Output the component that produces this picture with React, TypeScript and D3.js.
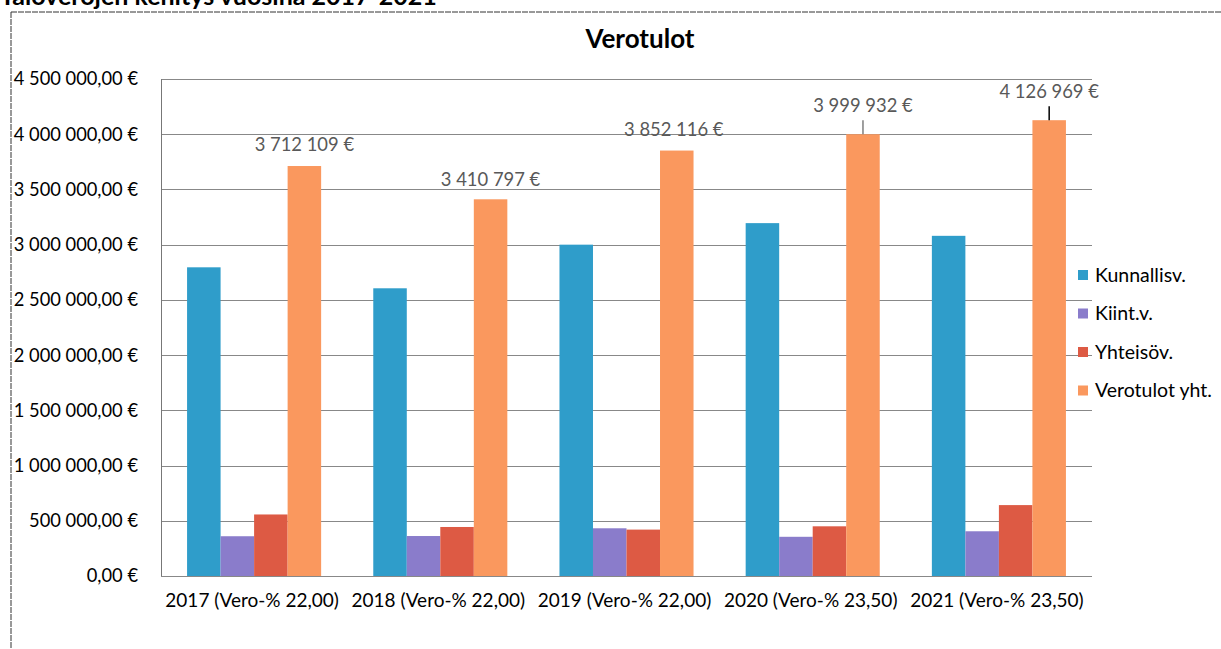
import React from "react";
import * as d3 from "d3";

const categories = [
  "2017 (Vero-% 22,00)",
  "2018 (Vero-% 22,00)",
  "2019 (Vero-% 22,00)",
  "2020 (Vero-% 23,50)",
  "2021 (Vero-% 23,50)",
];
const seriesNames = ["Kunnallisv.", "Kiint.v.", "Yhteisöv.", "Verotulot yht."];
const kunnallisv = [2795000, 2605000, 3000000, 3195000, 3080000];
const kiintv = [360000, 362000, 432000, 355000, 405000];
const yhteisov = [557109, 443797, 420116, 449932, 641969];
const verotulotYht = [3712109, 3410797, 3852116, 3999932, 4126969];
const yTicks = [0, 500000, 1000000, 1500000, 2000000, 2500000, 3000000, 3500000, 4000000, 4500000];

const colors = ["#2f9dca", "#8a7ccb", "#dd5a44", "#fa985e"];
// label layout tweaks (px above bar top, horizontal shift, leader line)
const labelLift = [15, 13, 15, 22, 22];
const labelShift = [0, 0, -3, 0, 0];
const leader = [null, null, null, "#7f7f7f", "#000000"];

const W = 1221;
const H = 649;
const FONT = "Lato, 'Open Sans', sans-serif";

const loc = d3.formatLocale({ decimal: ",", thousands: "\u00a0", grouping: [3], currency: ["", "\u00a0€"] });
const fmtTick = (v: number) => loc.format(",.2f")(v) + "\u00a0€";
const fmtVal = (v: number) => loc.format(",.0f")(v) + "\u00a0€";

export default function App() {
  const series = [kunnallisv, kiintv, yhteisov, verotulotYht];
  const left = 161, right = 1092, top = 79, bottom = 576;
  const x0 = d3.scaleBand<string>().domain(categories).range([left, right]).paddingInner(0.28).paddingOuter(0.14);
  const x1 = d3.scaleBand<number>().domain(d3.range(series.length)).range([0, x0.bandwidth()]).padding(0);
  const y = d3.scaleLinear().domain([0, 4500000]).range([bottom, top]);

  return (
    <svg width={W} height={H} style={{ position: "absolute", left: 0, top: 0, background: "#fff" }} fontFamily={FONT}>
      <rect x={0} y={0} width={W} height={H} fill="#fff" />
      <text x={0} y={5} fontSize={25} fontWeight="bold" fill="#000">Taloverojen kehitys vuosina 2017-2021</text>
      <line x1={11} y1={12} x2={W} y2={12} stroke="#333" strokeWidth={1} strokeDasharray="6 1" />
      <line x1={11} y1={12} x2={11} y2={H} stroke="#333" strokeWidth={1} strokeDasharray="6 1" />

      <text x={640} y={48} textAnchor="middle" fontSize={26} fontWeight="bold" fill="#000">Verotulot</text>

      {yTicks.map((t) => (
        <g key={t}>
          <line x1={left} x2={right} y1={Math.round(y(t)) + 0.5} y2={Math.round(y(t)) + 0.5} stroke="#888" strokeWidth={1} />
          <text x={138} y={y(t)} dy="0.35em" textAnchor="end" fontSize={18.3} fill="#000">{fmtTick(t)}</text>
        </g>
      ))}
      <line x1={left + 0.5} x2={left + 0.5} y1={top} y2={bottom} stroke="#777" strokeWidth={1} />

      {categories.map((c, i) => (
        <g key={c}>
          {series.map((s, j) => (
            <rect key={j} x={(x0(c) as number) + (x1(j) as number)} y={y(s[i])} width={x1.bandwidth()} height={bottom - y(s[i])} fill={colors[j]} />
          ))}
          <text x={(x0(c) as number) + x0.bandwidth() / 2 - 2} y={607} textAnchor="middle" fontSize={19} fill="#000">{c}</text>
        </g>
      ))}

      {categories.map((c, i) => {
        const cx = (x0(c) as number) + (x1(3) as number) + x1.bandwidth() / 2;
        const yt = y(verotulotYht[i]);
        const base = yt - labelLift[i];
        return (
          <g key={"l" + c}>
            {leader[i] && <line x1={cx} x2={cx} y1={base + 8} y2={yt} stroke={leader[i] as string} strokeWidth={1.5} />}
            <text x={cx + labelShift[i]} y={base} textAnchor="middle" fontSize={18.4} fill="#595959">{fmtVal(verotulotYht[i])}</text>
          </g>
        );
      })}

      {seriesNames.map((n, j) => (
        <g key={n} transform={`translate(1078, ${275 + j * 38.5})`}>
          <rect x={0} y={-5} width={10} height={10} fill={colors[j]} />
          <text x={17} y={0} dy="0.35em" fontSize={19.5} fill="#000">{n}</text>
        </g>
      ))}
    </svg>
  );
}
